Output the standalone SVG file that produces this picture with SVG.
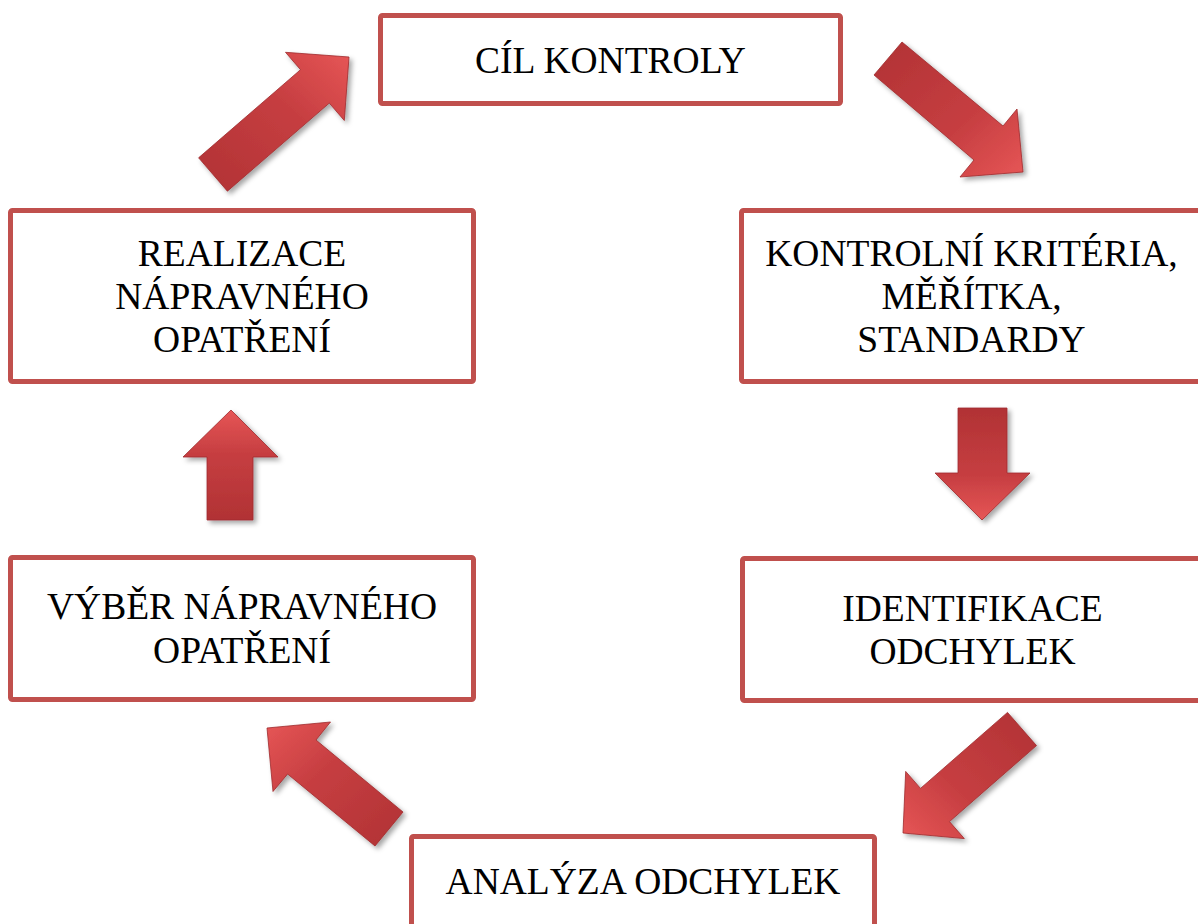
<svg xmlns="http://www.w3.org/2000/svg" width="1198" height="924" viewBox="0 0 1198 924">
  <style>
    .box { fill: #ffffff; stroke: #C0504D; stroke-width: 5; }
    .lbl { font-family: "Liberation Serif", "Times New Roman", serif; font-size: 37.5px; fill: #000000; text-anchor: middle; }
    .arrow { filter: url(#shadow); stroke: #9e2b2d; stroke-width: 0.8; stroke-linejoin: miter; }
  </style>
  <defs>
    <filter id="shadow" x="-20%" y="-20%" width="150%" height="150%">
      <feDropShadow dx="3" dy="3" stdDeviation="2.5" flood-color="#000000" flood-opacity="0.35"/>
    </filter>
    <linearGradient id="gDR" x1="0" y1="0" x2="1" y2="1">
      <stop offset="0" stop-color="#b13234"/><stop offset="0.6" stop-color="#c63e41"/><stop offset="1" stop-color="#e65656"/>
    </linearGradient>
    <linearGradient id="gD" x1="0" y1="0" x2="0" y2="1">
      <stop offset="0" stop-color="#b13234"/><stop offset="0.6" stop-color="#c63e41"/><stop offset="1" stop-color="#e65656"/>
    </linearGradient>
    <linearGradient id="gDL" x1="1" y1="0" x2="0" y2="1">
      <stop offset="0" stop-color="#b13234"/><stop offset="0.6" stop-color="#c63e41"/><stop offset="1" stop-color="#e65656"/>
    </linearGradient>
    <linearGradient id="gUL" x1="1" y1="1" x2="0" y2="0">
      <stop offset="0" stop-color="#b13234"/><stop offset="0.6" stop-color="#c63e41"/><stop offset="1" stop-color="#e65656"/>
    </linearGradient>
    <linearGradient id="gU" x1="0" y1="1" x2="0" y2="0">
      <stop offset="0" stop-color="#b13234"/><stop offset="0.6" stop-color="#c63e41"/><stop offset="1" stop-color="#e65656"/>
    </linearGradient>
    <linearGradient id="gUR" x1="0" y1="1" x2="1" y2="0">
      <stop offset="0" stop-color="#b13234"/><stop offset="0.6" stop-color="#c63e41"/><stop offset="1" stop-color="#e65656"/>
    </linearGradient>
  </defs>

  <g id="connectors">
    <polygon id="arrow-1" class="arrow" fill="url(#gDR)" points="902,42 1003,126 1017,109 1023,172 960,177 974,160 874,75"/>
    <polygon id="arrow-2" class="arrow" fill="url(#gD)" points="958,408 1007,408 1007,473 1030,473 982,520 935,473 958,473"/>
    <polygon id="arrow-3" class="arrow" fill="url(#gDL)" points="1007.5,712.4 920.5,788.4 905.7,771.4 903,833 964.3,838.6 949.5,821.6 1036.5,745.6"/>
    <polygon id="arrow-4" class="arrow" fill="url(#gUL)" points="403,812 316,740 330.5,722 267,728 273,791.5 287.6,774 375,846"/>
    <polygon id="arrow-5" class="arrow" fill="url(#gU)" points="207,520 207,457 183,457 231,410 278,457 253,457 253,520"/>
    <polygon id="arrow-6" class="arrow" fill="url(#gUR)" points="198.6,157.8 300.5,69.7 285.5,52.3 349,57 344.3,120.5 329.3,103.1 227.4,191.2"/>
  </g>

  <g id="node-cil">
    <rect class="box" x="380.5" y="15.5" width="460" height="88" rx="2"/>
    <text class="lbl" x="610.5" y="73">CÍL KONTROLY</text>
  </g>

  <g id="node-kriteria">
    <rect class="box" x="741.5" y="210.5" width="460" height="171" rx="2"/>
    <text class="lbl" x="971.5" y="266"><tspan x="971.5" y="266">KONTROLNÍ KRITÉRIA,</tspan><tspan x="971.5" y="309">MĚŘÍTKA,</tspan><tspan x="971.5" y="352">STANDARDY</tspan></text>
  </g>

  <g id="node-identifikace">
    <rect class="box" x="742.5" y="558.5" width="460" height="142" rx="2"/>
    <text class="lbl" x="972.5" y="621"><tspan x="972.5" y="621">IDENTIFIKACE</tspan><tspan x="972.5" y="664">ODCHYLEK</tspan></text>
  </g>

  <g id="node-analyza">
    <rect class="box" x="411.5" y="836.5" width="463" height="142" rx="2"/>
    <text class="lbl" x="643" y="894">ANALÝZA ODCHYLEK</text>
  </g>

  <g id="node-vyber">
    <rect class="box" x="10.5" y="557.5" width="463" height="142" rx="2"/>
    <text class="lbl" x="242" y="619"><tspan x="242" y="619">VÝBĚR NÁPRAVNÉHO</tspan><tspan x="242" y="663">OPATŘENÍ</tspan></text>
  </g>

  <g id="node-realizace">
    <rect class="box" x="10.5" y="210.5" width="463" height="171" rx="2"/>
    <text class="lbl" x="242" y="266"><tspan x="242" y="266">REALIZACE</tspan><tspan x="242" y="309">NÁPRAVNÉHO</tspan><tspan x="242" y="352">OPATŘENÍ</tspan></text>
  </g>
</svg>
